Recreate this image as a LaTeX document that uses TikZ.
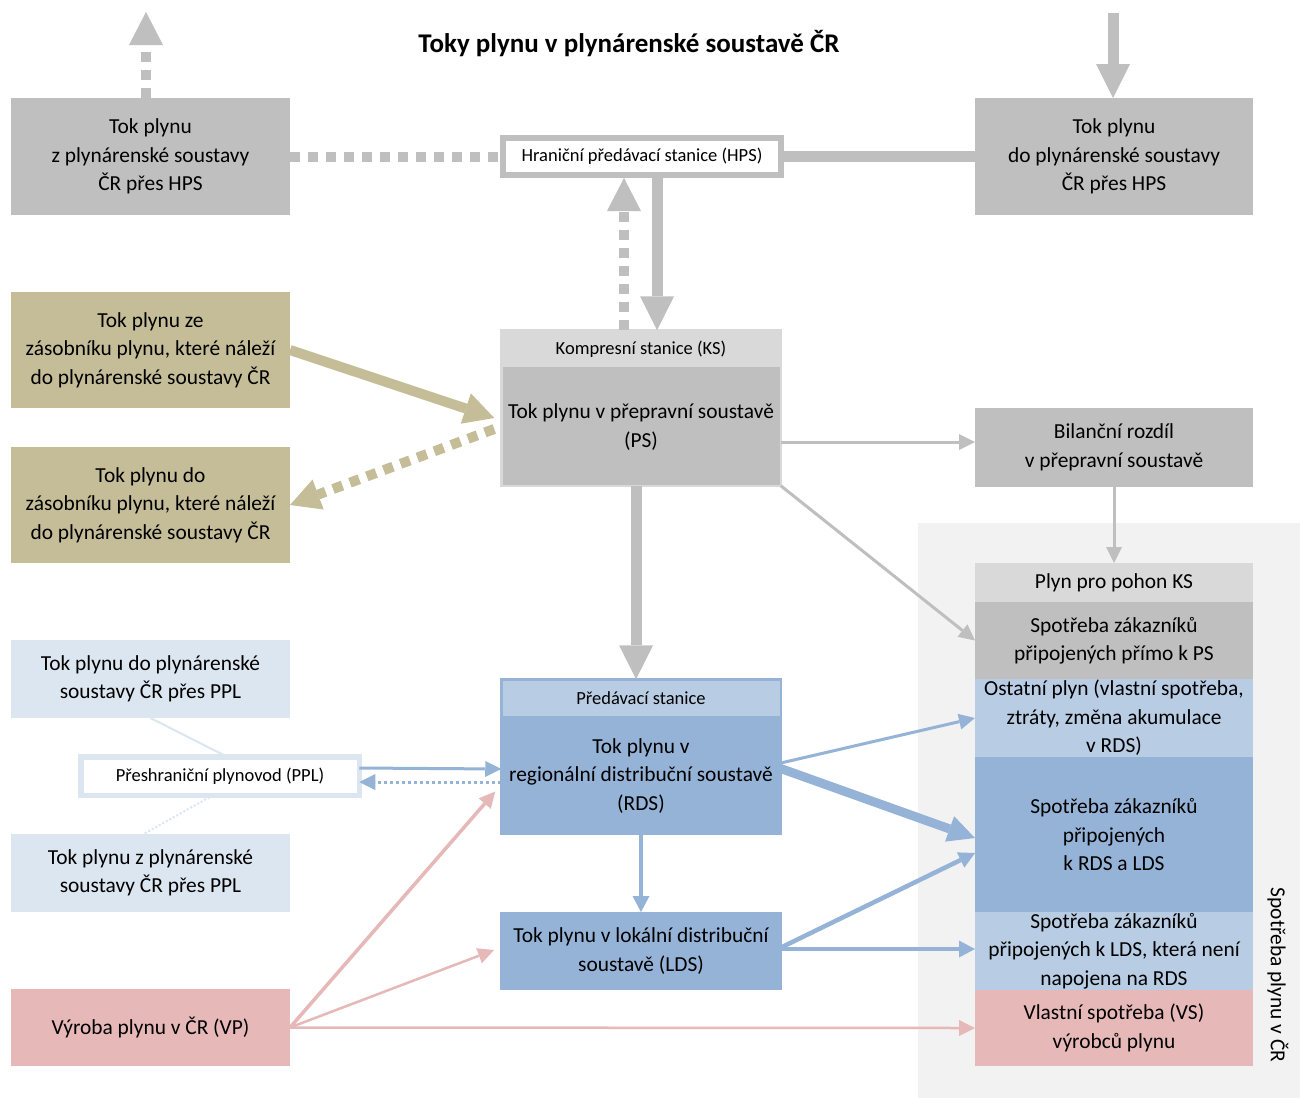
\documentclass[tikz,border=0pt]{standalone}
\usepackage{fontspec}
\setmainfont{Carlito}
\usetikzlibrary{arrows.meta,calc}
\definecolor{cgray}{HTML}{BFBFBF}
\definecolor{clgray}{HTML}{D9D9D9}
\definecolor{cpanel}{HTML}{F2F2F2}
\definecolor{ckhaki}{HTML}{C4BD97}
\definecolor{cblue}{HTML}{95B3D7}
\definecolor{clblue}{HTML}{B8CCE4}
\definecolor{cpblue}{HTML}{DCE6F1}
\definecolor{cpink}{HTML}{E6B8B7}
\newcommand\mainf{\fontsize{21.4}{28.5}\selectfont}
\newcommand\smallf{\fontsize{18.5}{22}\selectfont}
\newcommand\titlef{\fontsize{27}{31}\selectfont}
\begin{document}
\begin{tikzpicture}[x=1pt,y=-1pt,
  cell/.style={inner sep=0pt, outer sep=0pt, align=center, font=\mainf, anchor=north west},
  wh/.style 2 args={minimum width=#1pt, minimum height=#2pt},
  txt/.style={inner sep=0pt, align=center, font=\mainf},
  gthick/.style={draw=cgray, line width=11pt, -{Triangle[length=34pt,width=34pt,line width=0pt]}},
  gdot/.style={draw=cgray, line width=10pt, dash pattern=on 10pt off 8pt},
  gdotarr/.style={gdot, -{Triangle[length=33pt,width=34pt,line width=0pt]}},
  gthin/.style={draw=cgray, line width=3pt, -{Triangle[length=16pt,width=16pt,line width=0pt]}},
  kthick/.style={draw=ckhaki, line width=10pt, -{Triangle[length=30pt,width=32pt,line width=0pt]}},
  kdot/.style={draw=ckhaki, line width=10pt, dash pattern=on 10pt off 8pt, -{Triangle[length=30pt,width=32pt,line width=0pt]}},
  bthin/.style={draw=cblue, line width=3pt, -{Triangle[length=16pt,width=16pt,line width=0pt]}},
  bmed/.style={draw=cblue, line width=4.5pt, -{Triangle[length=16pt,width=17pt,line width=0pt]}},
  bthick/.style={draw=cblue, line width=9pt, -{Triangle[length=27pt,width=27pt,line width=0pt]}},
  bdot/.style={draw=cblue, line width=3pt, dash pattern=on 3pt off 3pt, -{Triangle[length=16pt,width=16pt,line width=0pt]}},
  pmed/.style={draw=cpink, line width=3.5pt, -{Triangle[length=16pt,width=16pt,line width=0pt]}},
  pthin/.style={draw=cpink, line width=2.5pt, -{Triangle[length=16pt,width=16pt,line width=0pt]}},
]
\fill[white] (0,0) rectangle (1300,1098);
\useasboundingbox (0,0) rectangle (1300,1098);

% title
\node[txt, font=\bfseries\titlef] (title) at (629,44) {Toky plynu v plynárenské soustavě ČR};

% right panel
\node[cell, fill=cpanel, wh={382}{575}] (panel) at (918,523) {};
\node[txt, rotate=-90] (vlab) at (1278,975) {Spotřeba plynu v ČR};

% top row
\node[cell, fill=cgray, wh={279}{117}] (hpsout) at (11,98) {Tok plynu\\z plynárenské soustavy\\ČR přes HPS};
\node[cell, fill=cgray, wh={278}{117}] (hpsin) at (975,98) {Tok plynu\\do plynárenské soustavy\\ČR přes HPS};
\node[cell, anchor=center, fill=white, draw=cgray, line width=6pt, wh={278}{37}, font=\smallf] (hps) at (642,156.5) {Hraniční předávací stanice (HPS)};

% storage
\node[cell, fill=ckhaki, wh={279}{116}] (zsin) at (11,292) {Tok plynu ze\\zásobníku plynu, které náleží\\do plynárenské soustavy ČR};
\node[cell, fill=ckhaki, wh={279}{116}] (zsout) at (11,447) {Tok plynu do\\zásobníku plynu, které náleží\\do plynárenské soustavy ČR};

% PS
\node[cell, anchor=center, fill=cgray, draw=clgray, line width=2.5pt, wh={279.5}{155.5}] (ps) at (641,408) {};
\node[cell, fill=clgray, wh={277}{35}, font=\smallf] (ks) at (502.5,331.5) {Kompresní stanice (KS)};
\node[txt] (pstxt) at (641,427) {Tok plynu v přepravní soustavě\\(PS)};

% Bilance
\node[cell, fill=cgray, wh={278}{79}] (bil) at (975,408) {Bilanční rozdíl\\v přepravní soustavě};

% consumption stack
\node[cell, fill=clgray, wh={278}{39}] (kspoh) at (975,563) {Plyn pro pohon KS};
\node[cell, fill=cgray, wh={278}{77}] (spps) at (975,602) {Spotřeba zákazníků\\připojených přímo k PS};
\node[cell, fill=clblue, wh={278}{78}] (ost) at (975,679) {Ostatní plyn (vlastní spotřeba,\\ztráty, změna akumulace\\v RDS)};
\node[cell, fill=cblue, wh={278}{155}] (sprds) at (975,757) {Spotřeba zákazníků\\připojených\\k RDS a LDS};
\node[cell, fill=clblue, wh={278}{78}] (splds) at (975,912) {Spotřeba zákazníků\\připojených k LDS, která není\\napojena na RDS};
\node[cell, fill=cpink, wh={278}{76}] (vs) at (975,990) {Vlastní spotřeba (VS)\\výrobců plynu};

% RDS
\node[cell, anchor=center, fill=cblue, draw=cblue, line width=2.5pt, wh={279.5}{154.5}] (rds) at (641,756.5) {};
\node[cell, fill=clblue, wh={277}{35}, font=\smallf] (pds) at (502.5,681) {Předávací stanice};
\node[txt] (rdstxt) at (641,776) {Tok plynu v\\regionální distribuční soustavě\\(RDS)};

% LDS
\node[cell, fill=cblue, wh={282}{78}] (lds) at (500,912) {Tok plynu v lokální distribuční\\soustavě (LDS)};

% PPL
\node[cell, fill=cpblue, wh={279}{78}] (pplin) at (11,640) {Tok plynu do plynárenské\\soustavy ČR přes PPL};
\node[cell, fill=cpblue, wh={279}{78}] (pplout) at (11,834) {Tok plynu z plynárenské\\soustavy ČR přes PPL};
\node[cell, anchor=center, fill=white, draw=cpblue, line width=5.5pt, wh={278.5}{38.5}, font=\smallf] (ppl) at (220,776) {Přeshraniční plynovod (PPL)};

% VP
\node[cell, fill=cpink, wh={279}{77}] (vp) at (11,989) {Výroba plynu v ČR (VP)};

% ---- connectors ----
\coordinate (tlend) at (146,12);
\draw[gdotarr] (hpsout.north -| tlend) -- (tlend);
\coordinate (trstart) at (1113,13);
\draw[gthick] (trstart) -- (trstart |- hpsin.north);

\draw[gdot] (hpsout.east) -- (hps.west);
\draw[draw=cgray, line width=11pt] (hps.east) -- (hpsin.west);
\draw[gthick] ([xshift=15pt]hps.south) -- ([xshift=15pt]hps.south |- ps.north);
\draw[gdotarr] ([xshift=-18pt]hps.south |- ps.north) -- ([xshift=-18pt,yshift=-3pt]hps.south);

\draw[kthick] (zsin.east) -- ($(ps.west)+(-7,10)$);
\draw[kdot] ($(ps.west)+(-7,21)$) -- (zsout.east);

\draw[gthin] ($(ps.east)+(0,34)$) -- ($(bil.west)+(0,-5.5)$);
\draw[gthin] (bil.south) -- (kspoh.north);
\draw[gthin] (ps.south east) -- (spps.west);

\draw[gthick] ([xshift=-5pt]ps.south) -- ([xshift=-5pt]ps.south |- rds.north);
\draw[bmed] (rds.south) -- (lds.north);

\draw[draw=cpblue, line width=2pt] (pplin.south) -- ([xshift=7pt]ppl.north);
\draw[draw=cpblue, line width=2pt, dash pattern=on 2pt off 2pt] ([xshift=-7pt]ppl.south) -- ([xshift=-7pt]pplout.north);
\draw[bthin] ($(ppl.east)+(0,-8)$) -- ($(rds.west)+(0,12.5)$);
\draw[bdot] ($(rds.west)+(0,25.5)$) -- ($(ppl.east)+(0,6)$);

\draw[pmed] (vp.east) -- ($(rds.west)+(-6,35)$);
\draw[pthin] (vp.east) -- ($(lds.west)+(-6,-1)$);
\draw[pthin] (vp.east) -- (vs.west);

\draw[bthin] ($(rds.east)+(0,6.5)$) -- (ost.west);
\draw[bthick] ($(rds.east)+(0,12)$) -- ($(sprds.west)+(0,3.5)$);
\draw[bmed] ($(lds.east)+(0,-4)$) -- ($(sprds.west)+(0,18.5)$);
\draw[bmed] ($(lds.east)+(0,-2)$) -- ($(splds.west)+(0,-2)$);
\end{tikzpicture}
\end{document}
